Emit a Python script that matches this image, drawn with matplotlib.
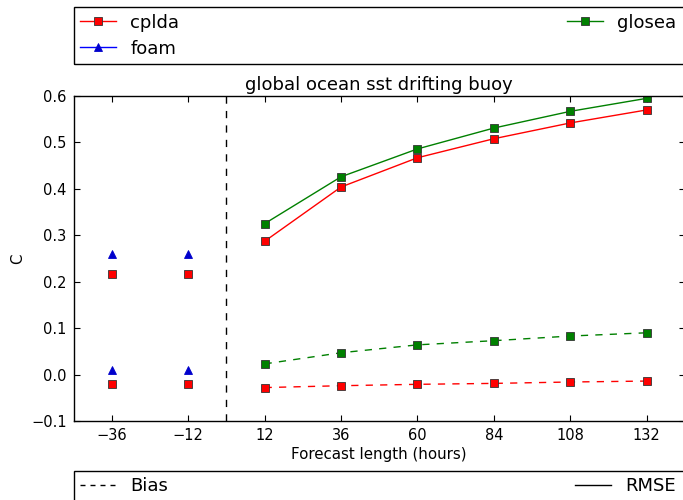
import matplotlib
matplotlib.use("Agg")
import matplotlib.pyplot as plt
from matplotlib.lines import Line2D
from matplotlib.patches import Rectangle

# Forecast lead times (hours)
lead = [12, 36, 60, 84, 108, 132]
analysis_lead = [-36, -12]

# RMSE
cplda_rmse = [0.287, 0.404, 0.467, 0.508, 0.542, 0.570]
glosea_rmse = [0.325, 0.426, 0.486, 0.531, 0.567, 0.595]
# Bias
cplda_bias = [-0.028, -0.024, -0.021, -0.019, -0.016, -0.014]
glosea_bias = [0.023, 0.047, 0.064, 0.073, 0.083, 0.090]

# Analysis-time statistics
cplda_an_rmse = [0.217, 0.217]
cplda_an_bias = [-0.020, -0.020]
foam_an_rmse = [0.260, 0.260]
foam_an_bias = [0.010, 0.010]

xticks = [-36, -12, 12, 36, 60, 84, 108, 132]
yticks = [-0.1, 0.0, 0.1, 0.2, 0.3, 0.4, 0.5, 0.6]

plt.rcParams.update({
    "font.family": "DejaVu Sans",
    "xtick.direction": "in",
    "ytick.direction": "in",
    "xtick.top": True,
    "ytick.right": True,
    "xtick.major.size": 4.5,
    "ytick.major.size": 4.5,
    "axes.linewidth": 1.0,
    "lines.dashed_pattern": [5.2, 5.2],
    "lines.scale_dashes": False,
})

fig = plt.figure(figsize=(6.83, 5.00), dpi=100)
fig.patch.set_facecolor("white")
ax = fig.add_axes([73.5 / 683, 1 - 421 / 500, 611.5 / 683, 325 / 500])
# the right-hand spine sits just past the figure edge
ax.spines["right"].set_visible(False)

ms = 5.8
mk = dict(markersize=ms, markeredgecolor="#333333", markeredgewidth=0.6)
tri = dict(markersize=ms, markerfacecolor="#0000cc", markeredgecolor="#0000cc", markeredgewidth=0.6)

ax.plot(lead, cplda_rmse, "-", color="red", marker="s", markerfacecolor="red", lw=1.0, **mk)
ax.plot(lead, glosea_rmse, "-", color="green", marker="s", markerfacecolor="green", lw=1.0, **mk)
ax.plot(lead, cplda_bias, "--", color="red", marker="s", markerfacecolor="red", lw=1.0, **mk)
ax.plot(lead, glosea_bias, "--", color="green", marker="s", markerfacecolor="green", lw=1.0, **mk)
ax.plot(analysis_lead, cplda_an_rmse, "none", marker="s", markerfacecolor="red", **mk)
ax.plot(analysis_lead, cplda_an_bias, "none", marker="s", markerfacecolor="red", **mk)
ax.plot(analysis_lead, foam_an_rmse, "none", marker="^", **tri)
ax.plot(analysis_lead, foam_an_bias, "none", marker="^", **tri)

ax.axvline(0, color="black", ls="--", lw=1.0)

ax.set_xlim(-48, 144)
ax.set_ylim(-0.1, 0.6)
ax.set_xticks(xticks)
ax.set_yticks(yticks)
ax.set_yticklabels(["\u22120.1", "0.0", "0.1", "0.2", "0.3", "0.4", "0.5", "0.6"])
ax.set_xticklabels([str(t).replace("-", "\u2212") for t in xticks])
ax.tick_params(labelsize=10.5, pad=5)
ax.set_xlabel("Forecast length (hours)", fontsize=10.8, labelpad=3)
ax.set_ylabel("C", fontsize=10.8)
ax.set_title("global ocean sst drifting buoy", fontsize=13, pad=4)

# Model legend
model_handles = [
    Line2D([], [], color="red", marker="s", markerfacecolor="red", lw=1.0, **mk),
    Line2D([], [], color="blue", marker="^", lw=1.0, **tri),
    Line2D([], [], color="green", marker="s", markerfacecolor="green", lw=1.0, **mk),
]
leg1 = fig.legend(model_handles, ["cplda", "foam", "glosea"], ncol=2, mode="expand",
                  loc="lower left", bbox_to_anchor=(73.5 / 683, 1 - 64 / 500, 609 / 683, 0.1),
                  fontsize=13, frameon=False, borderaxespad=0.0,
                  handlelength=2.0, labelspacing=0.45, borderpad=0.35)

# Statistic legend
stat_handles = [
    Line2D([], [], color="black", ls="--", lw=1.0, dashes=(3.6, 3.6)),
    Line2D([], [], color="black", ls="-", lw=1.0),
]
leg2 = fig.legend(stat_handles, ["Bias", "RMSE"], ncol=2, mode="expand",
                  loc="upper left", bbox_to_anchor=(73.5 / 683, 1 - 471 / 500 - 0.06, 609 / 683, 0.06),
                  fontsize=13, frameon=False, borderaxespad=0.0,
                  handlelength=2.0, borderpad=0.35)

# Legend frames run on past the right edge of the figure
fig.canvas.draw()
inv = fig.transFigure.inverted()
for leg in (leg1, leg2):
    bb = leg.get_window_extent().transformed(inv)
    fig.add_artist(Rectangle((bb.x0, bb.y0), 1.05 - bb.x0, bb.height,
                             transform=fig.transFigure, fill=False,
                             edgecolor="black", linewidth=1.0, clip_on=False))

fig.savefig("out.png", dpi=100, facecolor="white")
